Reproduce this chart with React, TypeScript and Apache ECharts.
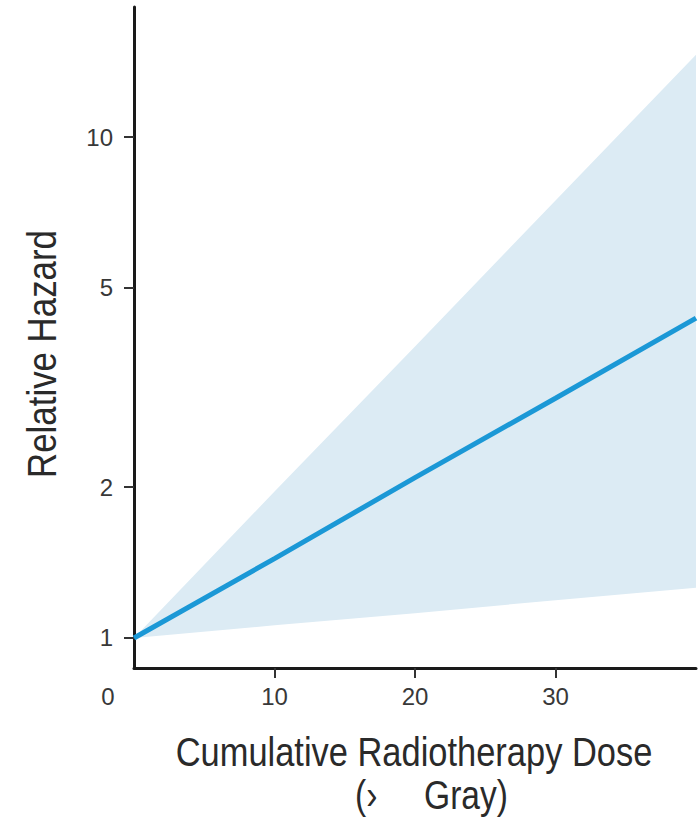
import React, { useEffect, useRef } from "react";
import * as echarts from "echarts";

// Cumulative radiotherapy dose (Gy)
const doses = [0, 10, 20, 30, 40];
// Relative hazard estimate
const hazard = [1, 1.44, 2.09, 3.01, 4.35];
// 95% confidence band
const lowerCI = [1, 1.06, 1.12, 1.19, 1.26];
const upperCI = [1, 1.96, 3.82, 7.47, 14.6];

const xTickValues = [10, 20, 30];
const xLabelValues = [0, 10, 20, 30];
const yTickValues = [1, 2, 5, 10];

const yTitle = "Relative Hazard";
const xTitle1 = "Cumulative Radiotherapy Dose";
const xTitle2 = "(\u203A     Gray)";

const L = (v: number) => Math.log10(v);

export default function App() {
  const ref = useRef<HTMLDivElement>(null);
  useEffect(() => {
    document.body.style.margin = "0";
    if (!ref.current) return;
    const chart = echarts.init(ref.current, undefined, { renderer: "svg" });
    const titleFont = "'Liberation Sans', Arial, sans-serif";
    const tickFont = "'Liberation Sans', Arial, sans-serif";
    const textColor = "#2a2a2a";
    const tickColor = "#383838";
    chart.setOption({
      animation: false,
      backgroundColor: "#ffffff",
      grid: { left: 134, right: 4, top: 7, bottom: 149, containLabel: false },
      xAxis: {
        type: "value",
        min: 0,
        max: 40,
        interval: 10,
        axisLine: { show: true, onZero: false, lineStyle: { color: "#1a1a1a", width: 3 } },
        axisTick: {
          show: true,
          length: 10,
          customValues: xTickValues,
          lineStyle: { color: "#333", width: 2 },
        },
        axisLabel: {
          customValues: xLabelValues,
          margin: 16,
          fontSize: 24,
          fontFamily: tickFont,
          color: tickColor,
          formatter: (v: number) => (v === 0 ? "{z|0}" : String(v)),
          rich: {
            z: { fontSize: 24, fontFamily: tickFont, color: tickColor, padding: [0, 52, 0, 0] },
          },
        },
        splitLine: { show: false },
      },
      yAxis: {
        type: "value",
        min: -0.0599,
        max: 1.2595,
        axisLine: { show: true, onZero: false, lineStyle: { color: "#1a1a1a", width: 3 } },
        axisTick: {
          show: true,
          length: 10,
          customValues: yTickValues.map(L),
          lineStyle: { color: "#333", width: 2 },
        },
        axisLabel: {
          customValues: yTickValues.map(L),
          margin: 21,
          fontSize: 24,
          fontFamily: tickFont,
          color: tickColor,
          formatter: (v: number) => String(Math.round(Math.pow(10, v))),
        },
        splitLine: { show: false },
      },
      series: [
        {
          name: "CI",
          type: "custom",
          silent: true,
          data: doses.map((d, i) => [d, L(lowerCI[i]), L(upperCI[i])]),
          renderItem: (params: any, api: any) => {
            if (params.dataIndex !== 0) return null;
            const pts: number[][] = [];
            for (let i = 0; i < doses.length; i++) pts.push(api.coord([doses[i], L(upperCI[i])]));
            for (let i = doses.length - 1; i >= 0; i--) pts.push(api.coord([doses[i], L(lowerCI[i])]));
            return {
              type: "polygon",
              shape: { points: pts },
              style: { fill: "#dcebf4" },
            };
          },
          z: 1,
        },
        {
          name: "hazard",
          type: "line",
          data: doses.map((d, i) => [d, L(hazard[i])]),
          symbol: "none",
          lineStyle: { color: "#1b98d6", width: 5 },
          z: 5,
        },
      ],
      graphic: [
        {
          type: "text",
          x: 42,
          y: 354,
          rotation: Math.PI / 2,
          scaleX: 0.85,
          style: {
            text: yTitle,
            fontSize: 41,
            fontFamily: titleFont,
            fill: textColor,
            align: "center",
            verticalAlign: "middle",
          },
        },
        {
          type: "text",
          x: 414,
          y: 752,
          scaleX: 0.84,
          style: {
            text: xTitle1,
            fontSize: 41,
            fontFamily: titleFont,
            fill: textColor,
            align: "center",
            verticalAlign: "middle",
          },
        },
        {
          type: "text",
          x: 355,
          y: 795,
          scaleX: 0.84,
          style: {
            text: xTitle2,
            fontSize: 40,
            fontFamily: titleFont,
            fill: textColor,
            align: "left",
            verticalAlign: "middle",
          },
        },
      ],
    });
    return () => chart.dispose();
  }, []);
  return <div ref={ref} style={{ width: 700, height: 817 }} />;
}
